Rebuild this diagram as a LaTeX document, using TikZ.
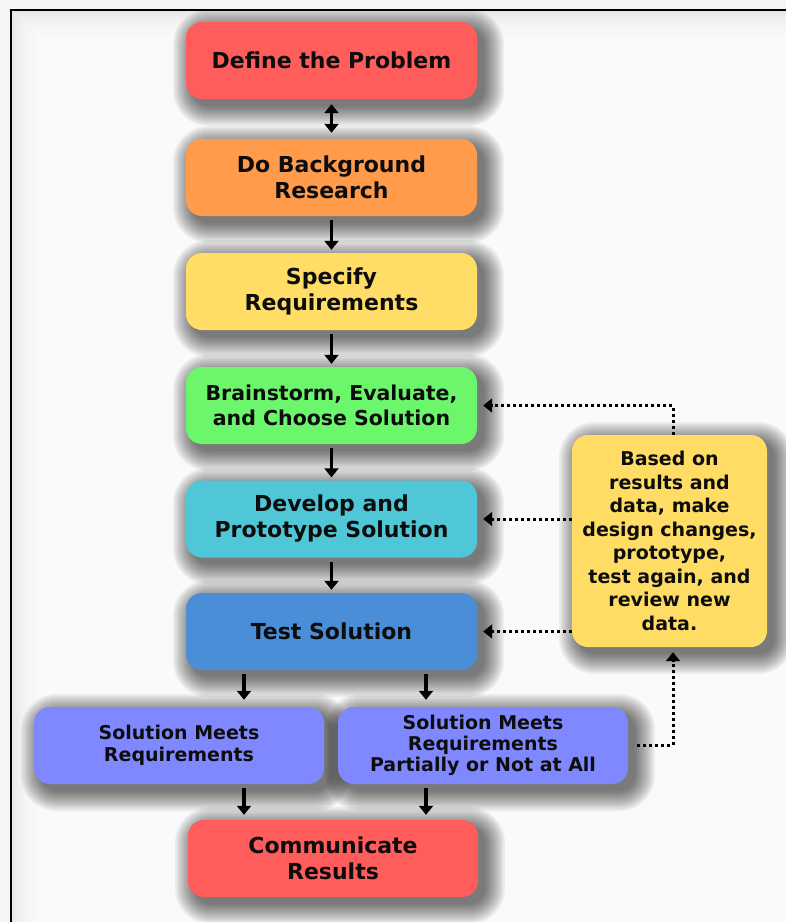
\documentclass[tikz,border=0pt]{standalone}
\usepackage{fontspec}
\setmainfont{DejaVu Sans}
\usetikzlibrary{arrows.meta,calc}
\definecolor{cred}{HTML}{FF5C5C}
\definecolor{corange}{HTML}{FF9B4B}
\definecolor{cyellow}{HTML}{FFDD66}
\definecolor{cgreen}{HTML}{6CF66C}
\definecolor{ccyan}{HTML}{4FC7D6}
\definecolor{cblue}{HTML}{4A8ED8}
\definecolor{cperi}{HTML}{8088FF}
\definecolor{cside}{HTML}{FFDC64}
\pgfdeclarelayer{bgl}
\pgfdeclarelayer{shl}
\pgfsetlayers{bgl,shl,main}
\newcommand{\shd}[1]{%
  \begin{pgfonlayer}{shl}
  \foreach \k in {0,...,11}{%
    \pgfmathsetmacro\e{1.8*(11-\k)}%
    \pgfmathsetmacro\r{16+\e}%
    \fill[black, opacity=0.055, rounded corners=\r pt]
      ($(#1.north west)+(7-\e,7-\e)$) rectangle ($(#1.south east)+(7+\e,7+\e)$);}
  \end{pgfonlayer}}
\begin{document}
\begin{tikzpicture}[x=1pt,y=-1pt,
 box/.style={rounded corners=16pt, minimum width=291pt, minimum height=77pt,
   align=center, text=black!95, inner sep=2pt},
 arr/.style={line width=3.2pt, -{Triangle[length=9pt,width=14pt]}},
 dotline/.style={line width=3pt, dash pattern=on 3pt off 3pt, -{Triangle[length=9pt,width=14pt]}}]
\useasboundingbox (0,0) rectangle (786,922);
\begin{pgfonlayer}{bgl}
\fill[gray!7] (0,0) rectangle (786,922);
\fill[gray!22] (12,11) rectangle (786,922);
\foreach \i in {0,...,15} {\fill[white, opacity=0.17] (12+2.4*\i, 11+2.4*\i) rectangle (786,922);}
\draw[line width=2.5pt] (11,930) -- (11,10) -- (795,10);
\end{pgfonlayer}

\node[box, fill=cred, font=\fontsize{22}{26}\selectfont\bfseries] (n1) at (331.5,60.5) {Define the Problem};
\node[box, fill=corange, font=\fontsize{22}{26}\selectfont\bfseries] (n2) at (331.5,177.5) {Do Background\\Research};
\node[box, fill=cyellow, font=\fontsize{22}{26}\selectfont\bfseries] (n3) at (331.5,291.5) {Specify\\Requirements};
\node[box, fill=cgreen, font=\fontsize{20.5}{25}\selectfont\bfseries] (n4) at (331.5,405.5) {Brainstorm, Evaluate,\\and Choose Solution};
\node[box, fill=ccyan, font=\fontsize{22}{26}\selectfont\bfseries] (n5) at (331.5,519) {Develop and\\Prototype Solution};
\node[box, fill=cblue, font=\fontsize{22}{26}\selectfont\bfseries] (n6) at (331.5,631.5) {Test Solution};
\node[box, fill=cperi, minimum width=290pt, font=\fontsize{19}{22}\selectfont\bfseries] (n7) at (179,745.5) {Solution Meets\\Requirements};
\node[box, fill=cperi, minimum width=290pt, font=\fontsize{19}{21}\selectfont\bfseries] (n8) at (483,745.5) {Solution Meets\\Requirements\\Partially or Not at All};
\node[box, fill=cred, minimum width=290pt, font=\fontsize{22}{26.5}\selectfont\bfseries] (n9) at (333,858.5) {Communicate\\Results};
\node[box, fill=cside, minimum width=195pt, minimum height=212pt, font=\fontsize{19}{23.5}\selectfont\bfseries] (side) at (669.5,541) {Based on\\results and\\data, make\\design changes,\\prototype,\\test again, and\\review new\\data.};

\shd{n1}\shd{n2}\shd{n3}\shd{n4}\shd{n5}\shd{n6}\shd{n7}\shd{n8}\shd{n9}\shd{side}

\draw[line width=3.2pt, {Triangle[length=9pt,width=14pt]}-{Triangle[length=9pt,width=14pt]}, shorten <=5pt, shorten >=6pt] (n1) -- (n2);
\draw[arr, shorten <=4pt, shorten >=3pt] (n2) -- (n3);
\draw[arr, shorten <=4pt, shorten >=3pt] (n3) -- (n4);
\draw[arr, shorten <=4pt, shorten >=3pt] (n4) -- (n5);
\draw[arr, shorten <=4pt, shorten >=3pt] (n5) -- (n6);
\draw[arr, shorten <=4pt, shorten >=7pt] ([xshift=-87.5pt]n6.south) -- ([xshift=-87.5pt]n6.south |- n7.north);
\draw[arr, shorten <=4pt, shorten >=7pt] ([xshift=94.5pt]n6.south) -- ([xshift=94.5pt]n6.south |- n8.north);
\draw[arr, shorten <=4pt, shorten >=5pt] ([xshift=-89pt]n9.north |- n7.south) -- ([xshift=-89pt]n9.north);
\draw[arr, shorten <=4pt, shorten >=5pt] ([xshift=93pt]n9.north |- n8.south) -- ([xshift=93pt]n9.north);

\draw[dotline] ([xshift=3.5pt]side.north) |- ([xshift=6pt]n4.east);
\draw[dotline] (side.west |- n5.east) -- ([xshift=6pt]n5.east);
\draw[dotline] (side.west |- n6.east) -- ([xshift=6pt]n6.east);
\draw[dotline] ([xshift=9pt]n8.east) -| ([xshift=3.5pt,yshift=-5pt]side.south);
\end{tikzpicture}
\end{document}
